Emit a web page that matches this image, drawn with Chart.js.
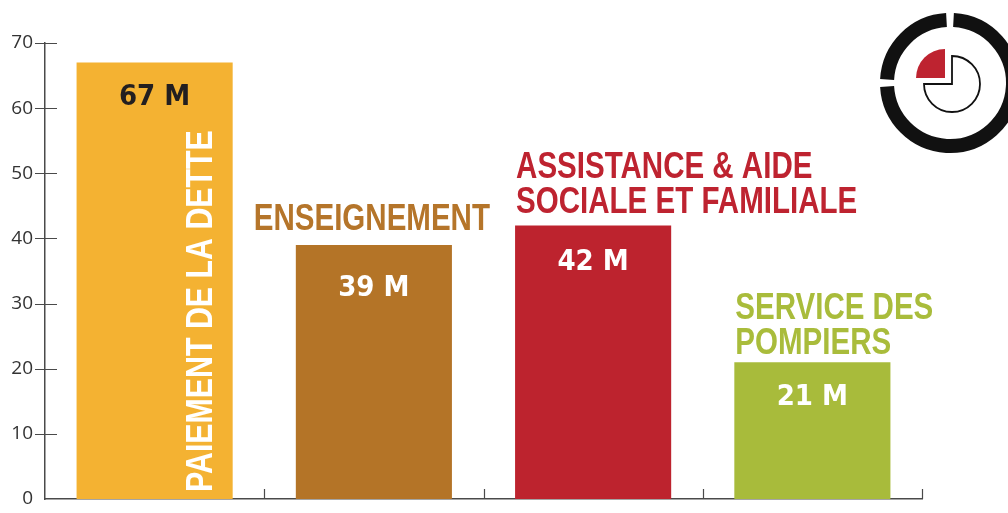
<!DOCTYPE html>
<html>
<head>
<meta charset="utf-8">
<script src="https://cdn.jsdelivr.net/npm/chart.js@4.4.0/dist/chart.umd.min.js"></script>
<style>
  html, body { margin: 0; padding: 0; background: #ffffff; }
  #wrap { width: 1008px; height: 513px; }
</style>
</head>
<body>
<div id="wrap"><canvas id="budgetChart"></canvas></div>
<script>
// données
const categories = ['PAIEMENT DE LA DETTE', 'ENSEIGNEMENT', 'ASSISTANCE & AIDE SOCIALE ET FAMILIALE', 'SERVICE DES POMPIERS'];
const labelLines = [['PAIEMENT DE LA DETTE'], ['ENSEIGNEMENT'], ['ASSISTANCE & AIDE', 'SOCIALE ET FAMILIALE'], ['SERVICE DES', 'POMPIERS']];
const montants = [67, 39, 42, 21];
const yTicks = [0, 10, 20, 30, 40, 50, 60, 70];

const barColors = ['#F4B232', '#B47427', '#BD232E', '#A8BB3B'];
const textColors = ['#FFFFFF', '#B5752A', '#BE2330', '#A9BC3B'];
const valueColors = ['#231F20', '#FFFFFF', '#FFFFFF', '#FFFFFF'];

const LABEL_FONT = 'bold 36px "Liberation Sans", Arial, sans-serif';
const VERTICAL_FONT = 'bold 37px "Liberation Sans", Arial, sans-serif';
const LABEL_SQUEEZE = 0.82;   // imitation d'une police étroite
const VALUE_FONT = 'bold 29px "DejaVu Sans Condensed", "Liberation Sans", sans-serif';
const AXIS_COLOR = '#4a4a4a';

// texte compressé horizontalement
function condensedText(ctx, text, x, y, align, angle) {
  ctx.save();
  ctx.translate(x, y);
  if (angle) ctx.rotate(angle);
  ctx.scale(LABEL_SQUEEZE, 1);
  ctx.textAlign = align;
  ctx.textBaseline = 'alphabetic';
  ctx.fillText(text, 0, 0);
  ctx.restore();
}

// petits traits sur les axes
const tickMarks = {
  id: 'tickMarks',
  afterDraw(chart) {
    const ctx = chart.ctx;
    const x = chart.scales.x, y = chart.scales.y;
    const area = chart.chartArea;
    ctx.save();
    ctx.strokeStyle = AXIS_COLOR;
    ctx.lineWidth = 1.2;
    ctx.beginPath();
    yTicks.forEach(v => {
      if (v === 0) return;
      const py = Math.round(y.getPixelForValue(v)) + 0.5;
      ctx.moveTo(area.left - 10, py);
      ctx.lineTo(area.left + 12, py);
    });
    const half = (x.getPixelForValue(1) - x.getPixelForValue(0)) / 2;
    categories.forEach((c, i) => {
      const px = Math.round(x.getPixelForValue(i) + half) + 0.5;
      ctx.moveTo(px, area.bottom);
      ctx.lineTo(px, area.bottom - 10);
    });
    ctx.stroke();
    ctx.restore();
  }
};

// étiquettes des barres
const barLabels = {
  id: 'barLabels',
  afterDatasetsDraw(chart) {
    const ctx = chart.ctx;
    const bars = chart.getDatasetMeta(0).data;
    const valueOffsets = [35, 44, 37, 35];
    ctx.save();
    bars.forEach((bar, i) => {
      const left = bar.x - bar.width / 2;
      // valeur
      ctx.font = VALUE_FONT;
      ctx.fillStyle = valueColors[i];
      ctx.textAlign = 'center';
      ctx.textBaseline = 'middle';
      ctx.fillText(montants[i] + ' M', bar.x, bar.y + valueOffsets[i]);

      // catégorie
      ctx.font = LABEL_FONT;
      ctx.fillStyle = textColors[i];
      const lines = labelLines[i];
      if (i === 0) {
        ctx.font = VERTICAL_FONT;
        condensedText(ctx, lines[0], bar.x + 57, bar.base - 7, 'left', -Math.PI / 2);
      } else if (i === 1) {
        condensedText(ctx, lines[0], bar.x - 2, bar.y - 15, 'center');
      } else {
        const gap = i === 2 ? 12 : 8;
        lines.forEach((ln, k) => {
          condensedText(ctx, ln, left + 1, bar.y - gap - (lines.length - 1 - k) * 35, 'left');
        });
      }
    });
    ctx.restore();
  }
};

// logo en haut à droite
const logo = {
  id: 'logo',
  afterDraw(chart) {
    const ctx = chart.ctx;
    const cx = 950, cy = 83;
    ctx.save();
    ctx.strokeStyle = '#111111';
    ctx.lineWidth = 14;
    const r = 63;
    const g = 3.5 / r;
    ctx.beginPath();
    ctx.arc(cx, cy, r, Math.PI + g, 1.5 * Math.PI - g);
    ctx.stroke();
    ctx.beginPath();
    ctx.arc(cx, cy, r, 1.5 * Math.PI + g, Math.PI - g + 2 * Math.PI);
    ctx.stroke();

    ctx.fillStyle = '#BE2330';
    ctx.beginPath();
    ctx.moveTo(945, 78);
    ctx.arc(945, 78, 29, Math.PI, 1.5 * Math.PI);
    ctx.closePath();
    ctx.fill();

    ctx.lineWidth = 1.8;
    ctx.beginPath();
    ctx.moveTo(952, 84);
    ctx.lineTo(952, 56);
    ctx.arc(952, 84, 28, 1.5 * Math.PI, Math.PI + 2 * Math.PI);
    ctx.closePath();
    ctx.stroke();
    ctx.restore();
  }
};

const ctxBudget = document.getElementById('budgetChart').getContext('2d');

const budgetChart = new Chart(ctxBudget, {
  type: 'bar',
  data: {
    labels: categories,
    datasets: [{
      data: montants,
      backgroundColor: barColors,
      borderWidth: 0,
      categoryPercentage: 1,
      barPercentage: 0.712
    }]
  },
  options: {
    responsive: true,
    maintainAspectRatio: false,
    animation: false,
    layout: { padding: { left: 0, right: 86, top: 43, bottom: 14 } },
    plugins: {
      legend: { display: false },
      tooltip: { enabled: false }
    },
    scales: {
      x: {
        grid: { display: false, drawTicks: false },
        ticks: { display: false },
        border: { display: true, color: AXIS_COLOR, width: 1.5 },
        afterFit(s) { s.height = 0; }
      },
      y: {
        min: 0,
        max: 70,
        afterBuildTicks(s) { s.ticks = yTicks.map(v => ({ value: v })); },
        grid: { display: false, drawTicks: false },
        border: { display: true, color: AXIS_COLOR, width: 1.5 },
        ticks: {
          padding: 12,
          color: '#333333',
          font: { family: '"Open Sans", "Liberation Sans", sans-serif', size: 19 }
        },
        afterFit(s) { s.width = 45; s.paddingTop = 0; s.paddingBottom = 0; }
      }
    }
  },
  plugins: [tickMarks, barLabels, logo]
});
</script>
</body>
</html>
